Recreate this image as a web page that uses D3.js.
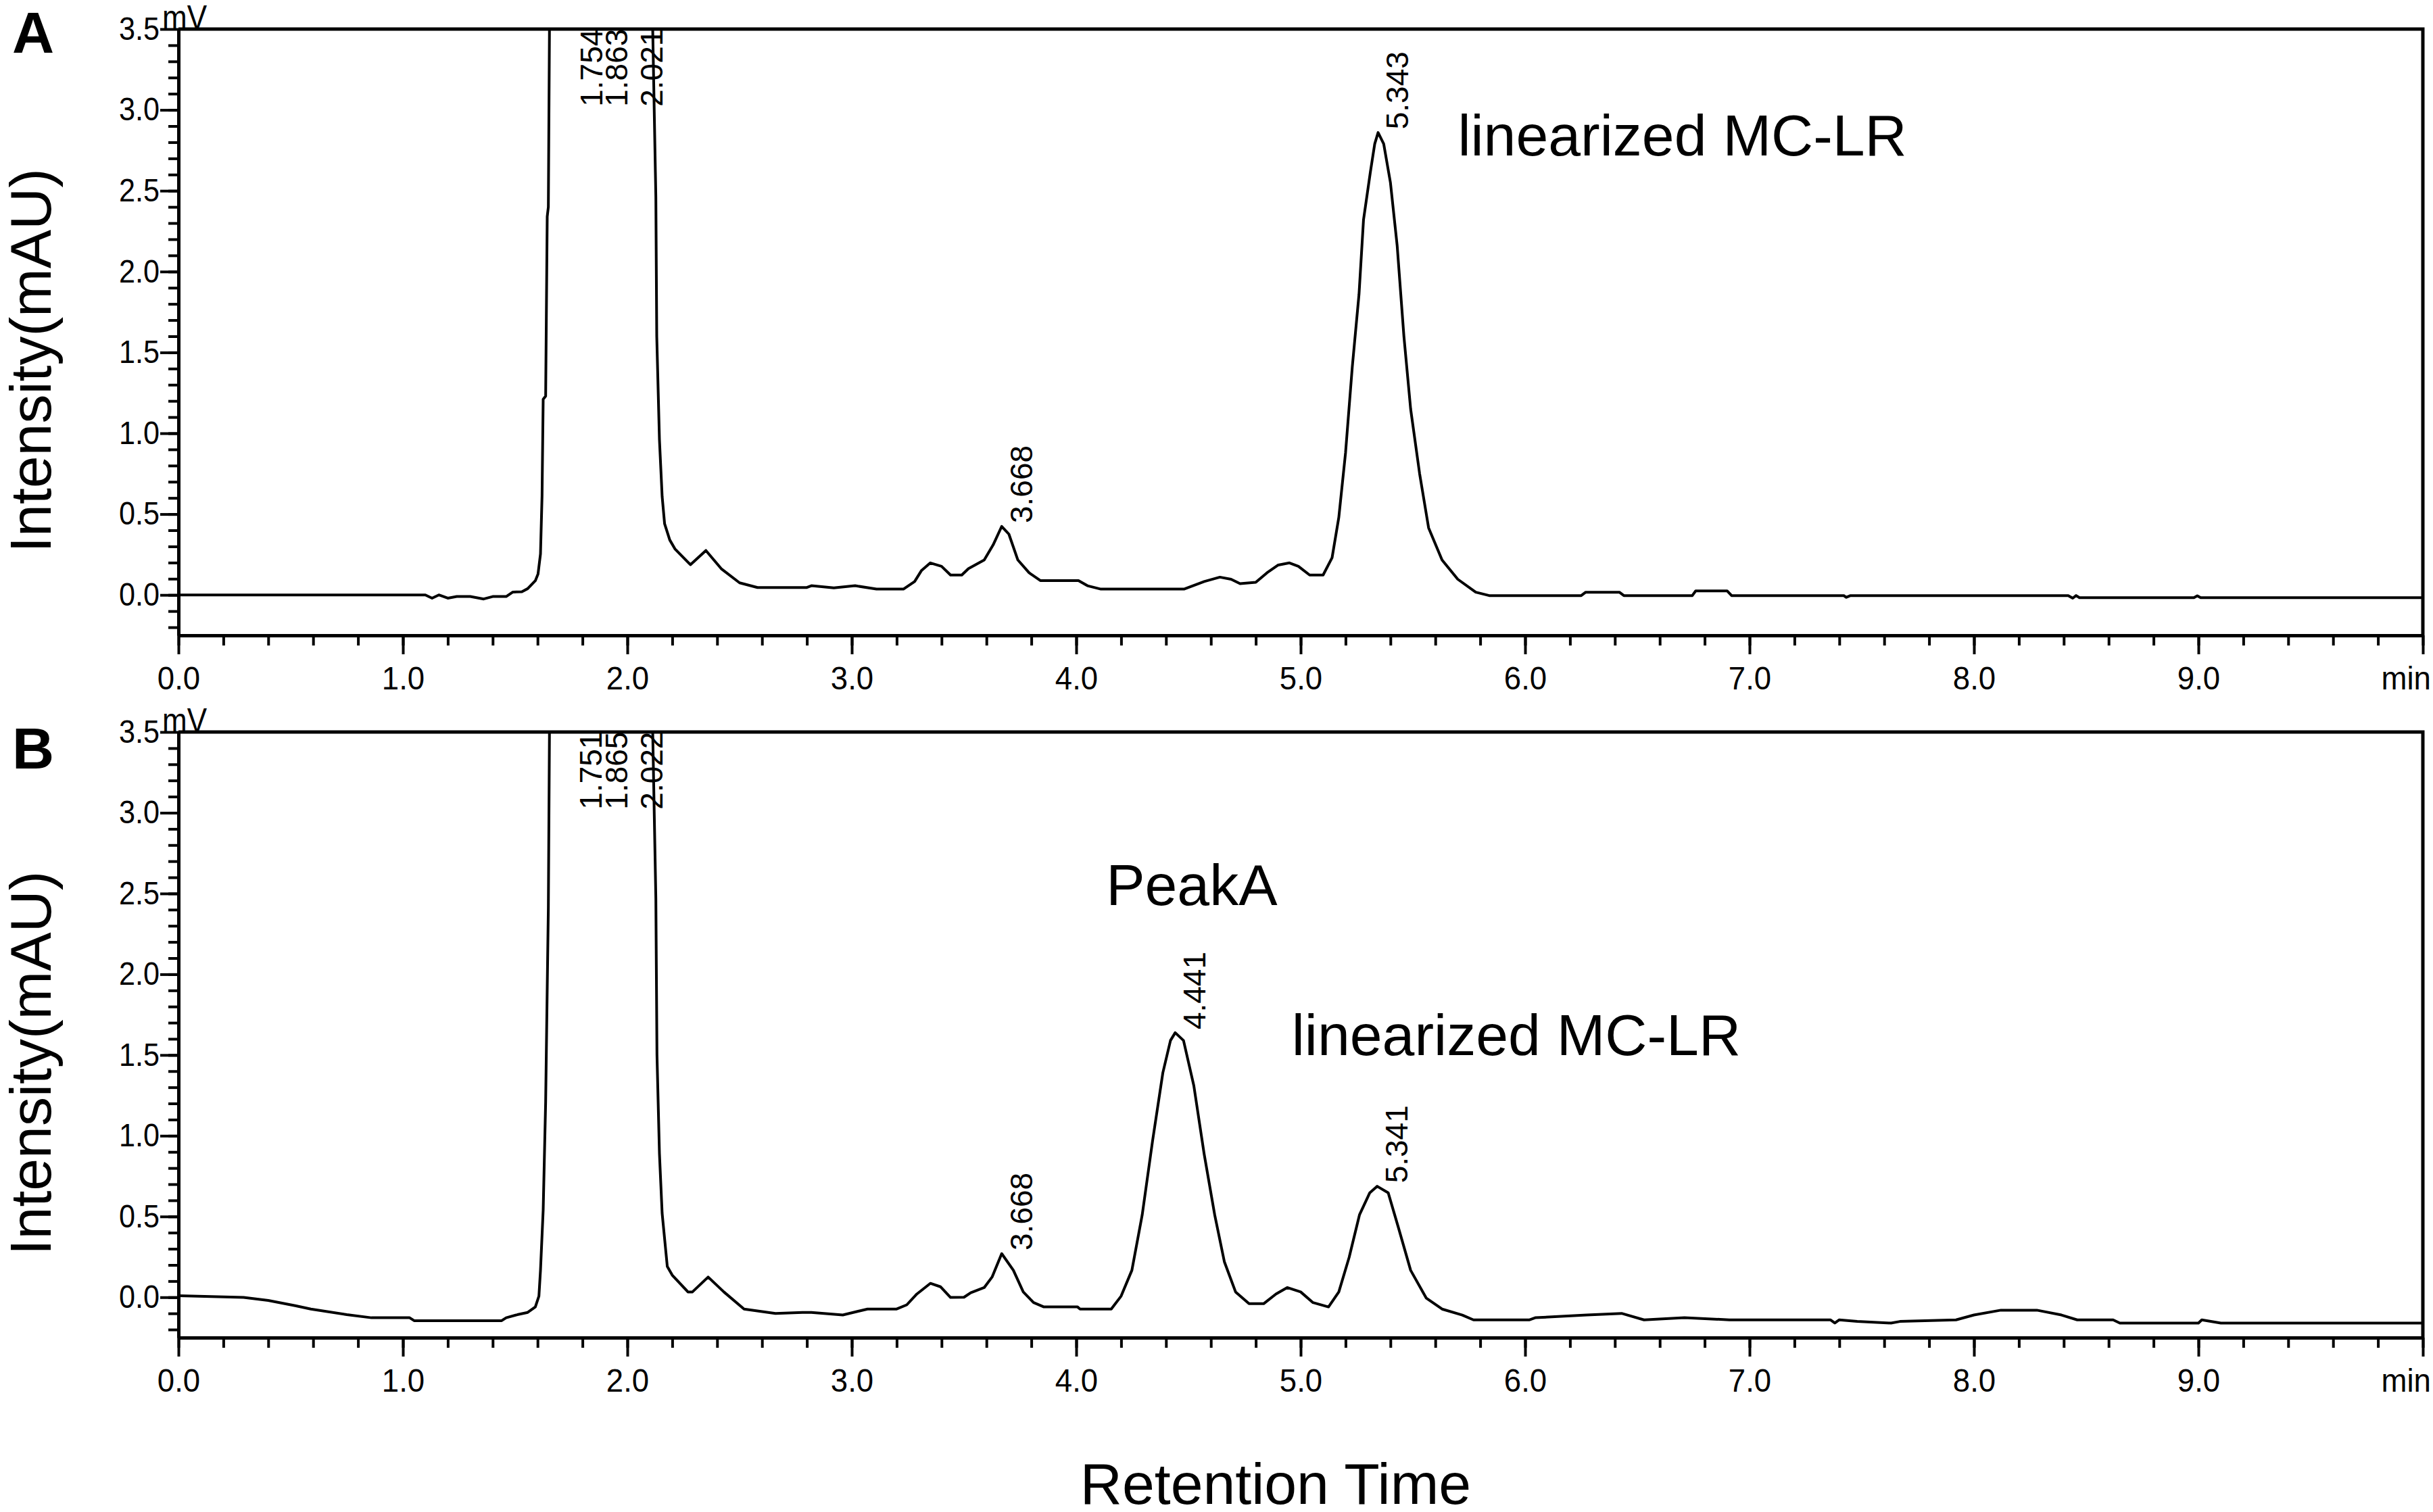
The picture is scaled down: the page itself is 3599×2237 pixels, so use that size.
<!DOCTYPE html>
<html>
<head>
<meta charset="utf-8">
<script src="https://cdn.jsdelivr.net/npm/d3@7/dist/d3.min.js"></script>
<style>
body {margin: 0; background: #fff;}
text {font-family: "Liberation Sans", Arial, sans-serif; fill: #000;}
</style>
</head>
<body>
<div id="chart"></div>
<script>
// chromatogram A: retention time (min) and intensity
let timeA = [0, 1.10, 1.13, 1.16, 1.20, 1.24, 1.30, 1.36, 1.40, 1.46, 1.49, 1.53, 1.556, 1.59, 1.602, 1.613, 1.62, 1.625, 1.636, 1.643, 1.648, 1.653,
    2.113, 2.127, 2.131, 2.143, 2.155, 2.166, 2.189, 2.212, 2.281, 2.35, 2.42, 2.50, 2.58, 2.80, 2.82, 2.92, 3.015, 3.11, 3.23,
    3.28, 3.31, 3.35, 3.40, 3.44, 3.49, 3.52, 3.59, 3.63, 3.668, 3.70, 3.74, 3.79, 3.84, 4.01, 4.05, 4.11, 4.48, 4.57, 4.64, 4.69,
    4.73, 4.80, 4.85, 4.90, 4.95, 4.99, 5.04, 5.10, 5.14, 5.17, 5.20, 5.23, 5.26, 5.28, 5.31, 5.33, 5.345, 5.37, 5.40, 5.43, 5.46,
    5.49, 5.53, 5.57, 5.63, 5.70, 5.78, 5.84, 6.25, 6.27, 6.42, 6.44, 6.745, 6.76, 6.90, 6.92, 7.42, 7.43, 7.45, 8.42, 8.44, 8.455,
    8.47, 8.98, 8.995, 9.01, 10.0]
let valA = [0, 0, -0.02, 0, -0.02, -0.01, -0.01, -0.025, -0.01, -0.01, 0.018, 0.02, 0.039, 0.088, 0.129, 0.254, 0.615, 1.21, 1.23, 2.34, 2.40, 3.5,
    3.5, 2.46, 1.6, 0.96, 0.61, 0.44, 0.34, 0.285, 0.187, 0.275, 0.16, 0.075, 0.046, 0.046, 0.057, 0.044, 0.057, 0.036, 0.036,
    0.083, 0.15, 0.198, 0.177, 0.123, 0.123, 0.163, 0.216, 0.31, 0.424, 0.376, 0.216, 0.137, 0.089, 0.089, 0.057, 0.036, 0.036, 0.083, 0.11, 0.097,
    0.07, 0.078, 0.137, 0.185, 0.198, 0.177, 0.123, 0.123, 0.23, 0.48, 0.88, 1.41, 1.86, 2.32, 2.61, 2.79, 2.86, 2.79, 2.55, 2.16, 1.60,
    1.15, 0.75, 0.415, 0.216, 0.097, 0.017, -0.004, -0.004, 0.017, 0.017, -0.004, -0.004, 0.025, 0.025, -0.004, -0.004, -0.015, -0.004, -0.004, -0.02, -0.004,
    -0.017, -0.017, -0.005, -0.017, -0.017]

// chromatogram B
let timeB = [0, 0.29, 0.40, 0.52, 0.59, 0.75, 0.86, 1.03, 1.05, 1.44, 1.46, 1.51, 1.556, 1.59, 1.606, 1.613, 1.625, 1.636, 1.648, 1.653,
    2.113, 2.127, 2.132, 2.143, 2.155, 2.178, 2.20, 2.27, 2.29, 2.36, 2.43, 2.52, 2.66, 2.78, 2.82, 2.96, 3.07, 3.20, 3.245, 3.29,
    3.35, 3.395, 3.44, 3.50, 3.53, 3.59, 3.625, 3.668, 3.72, 3.764, 3.81, 3.856, 4.006, 4.017, 4.156, 4.20, 4.248, 4.294, 4.34,
    4.386, 4.42, 4.441, 4.478, 4.524, 4.57, 4.617, 4.66, 4.71, 4.77, 4.835, 4.89, 4.94, 5.00, 5.055, 5.124, 5.17, 5.216, 5.262,
    5.308, 5.341, 5.39, 5.435, 5.49, 5.56, 5.63, 5.72, 5.77, 6.02, 6.045, 6.275, 6.43, 6.53, 6.71, 6.91, 7.36, 7.38, 7.40, 7.48,
    7.63, 7.67, 7.92, 8.00, 8.12, 8.28, 8.39, 8.46, 8.62, 8.65, 9.00, 9.015, 9.10, 10.0]
let valB = [0.01, -0.001, -0.02, -0.052, -0.073, -0.108, -0.127, -0.127, -0.145, -0.145, -0.127, -0.108, -0.094, -0.06, 0.007, 0.167, 0.54, 1.21, 2.41, 3.5,
    3.5, 2.47, 1.50, 0.89, 0.52, 0.19, 0.137, 0.033, 0.033, 0.125, 0.033, -0.073, -0.10, -0.094, -0.094, -0.11, -0.073, -0.073, -0.047, 0.02,
    0.086, 0.065, -0.001, 0, 0.028, 0.06, 0.125, 0.27, 0.167, 0.033, -0.033, -0.06, -0.06, -0.073, -0.073, 0.007, 0.167, 0.51, 0.967,
    1.39, 1.59, 1.638, 1.59, 1.31, 0.887, 0.51, 0.22, 0.033, -0.04, -0.04, 0.02, 0.06, 0.033, -0.033, -0.06, 0.033, 0.247, 0.51,
    0.647, 0.687, 0.647, 0.434, 0.167, -0.006, -0.073, -0.11, -0.14, -0.14, -0.127, -0.11, -0.10, -0.14, -0.127, -0.14, -0.14, -0.16, -0.14, -0.15,
    -0.16, -0.15, -0.14, -0.11, -0.08, -0.08, -0.11, -0.14, -0.14, -0.16, -0.16, -0.14, -0.16, -0.16]

// peak labels
let peaksA = [1.754, 1.863, 2.021, 3.668, 5.343]
let peakTextA = ["1.754", "1.863", "2.021", "3.668", "5.343"]
let peaksB = [1.751, 1.865, 2.022, 3.668, 4.441, 5.341]
let peakTextB = ["1.751", "1.865", "2.022", "3.668", "4.441", "5.341"]

// axis ticks
let yMajor = [0, 0.5, 1.0, 1.5, 2.0, 2.5, 3.0, 3.5]
let yTickLabels = ["0.0", "0.5", "1.0", "1.5", "2.0", "2.5", "3.0", "3.5"]
let xMajor = [0, 1, 2, 3, 4, 5, 6, 7, 8, 9, 10]
let xTickLabels = ["0.0", "1.0", "2.0", "3.0", "4.0", "5.0", "6.0", "7.0", "8.0", "9.0", "min"]

let W = 3599, H = 2237
let svg = d3.select("#chart").append("svg")
    .attr("width", W).attr("height", H)
    .style("background", "#fff")

let scX = d3.scaleLinear().domain([0, 10]).range([264, 3584])

let panels = [
    {name: "A", top: 43, bottom: 940, t: timeA, v: valA, peaks: peaksA, labels: peakTextA, nameY: 78,
        notes: [{text: "linearized MC-LR", t: 5.70, y: 2.72}]},
    {name: "B", top: 1083, bottom: 1979, t: timeB, v: valB, peaks: peaksB, labels: peakTextB, nameY: 1137,
        notes: [{text: "PeakA", t: 4.133, y: 2.43}, {text: "linearized MC-LR", t: 4.96, y: 1.50}]}
]

panels.forEach((p, idx) => {
    let scY = d3.scaleLinear().domain([-0.25, 3.5]).range([p.bottom, p.top])
    let g = svg.append("g")

    g.append("clipPath").attr("id", "clip" + idx)
        .append("rect")
        .attr("x", scX(0)).attr("y", p.top)
        .attr("width", scX(10) - scX(0)).attr("height", p.bottom - p.top)

    // minor ticks
    let yMinor = d3.range(-2, 35).map(i => i / 10)
    g.append("g")
        .attr("transform", `translate(${scX(0)},0)`)
        .call(d3.axisLeft(scY).tickValues(yMinor).tickSize(15).tickSizeOuter(0).tickFormat(""))
        .call(a => a.select(".domain").remove())
        .selectAll("line").attr("stroke-width", 4)
    let xMinor = d3.range(0, 51).map(i => i / 5)
    g.append("g")
        .attr("transform", `translate(0,${p.bottom})`)
        .call(d3.axisBottom(scX).tickValues(xMinor).tickSize(15).tickSizeOuter(0).tickFormat(""))
        .call(a => a.select(".domain").remove())
        .selectAll("line").attr("stroke-width", 4)

    // major ticks and labels
    let yAxis = g.append("g")
        .attr("transform", `translate(${scX(0)},0)`)
        .call(d3.axisLeft(scY).tickValues(yMajor).tickSize(27).tickSizeOuter(0).tickPadding(4)
            .tickFormat((d, i) => yTickLabels[i]))
    yAxis.selectAll("line").attr("stroke-width", 4)
    yAxis.select(".domain").attr("stroke-width", 5)
    yAxis.selectAll("text").attr("font-size", 48).attr("transform", "scale(0.9,1)")
        .style("font-family", '"Liberation Sans", Arial, sans-serif')

    let xAxis = g.append("g")
        .attr("transform", `translate(0,${p.bottom})`)
        .call(d3.axisBottom(scX).tickValues(xMajor).tickSize(28).tickSizeOuter(0).tickPadding(18)
            .tickFormat((d, i) => xTickLabels[i]))
    xAxis.selectAll("line").attr("stroke-width", 4)
    xAxis.select(".domain").attr("stroke-width", 5)
    xAxis.selectAll("text").attr("font-size", 48).attr("transform", "scale(0.95,1)")
        .style("font-family", '"Liberation Sans", Arial, sans-serif')
    xAxis.selectAll("text").filter((d, i) => i === xMajor.length - 1)
        .attr("text-anchor", "end").attr("dx", 12)

    // frame top and right
    g.append("path")
        .attr("d", `M${scX(0)},${p.top}H${scX(10)}V${p.bottom}`)
        .attr("fill", "none").attr("stroke", "#000").attr("stroke-width", 5)

    // signal
    let makeLine = d3.line()
        .x((d, i) => scX(p.t[i]))
        .y(d => scY(d))
    g.append("path")
        .attr("d", makeLine(p.v))
        .attr("clip-path", `url(#clip${idx})`)
        .attr("fill", "none")
        .attr("stroke", "#000")
        .attr("stroke-width", 4)
        .attr("stroke-linejoin", "round")

    // retention time labels above each peak
    p.peaks.forEach((pk, i) => {
        let j = d3.bisectLeft(p.t, pk)
        let f = (pk - p.t[j - 1]) / (p.t[j] - p.t[j - 1])
        let here = p.v[j - 1] + f * (p.v[j] - p.v[j - 1])
        let near = p.v.filter((d, k) => Math.abs(p.t[k] - pk) < 0.03)
        let top = Math.min(3.0, d3.max(near.concat([here]))) + 0.02
        g.append("text")
            .attr("transform", `translate(${scX(pk) + 45},${scY(top)}) rotate(-90)`)
            .attr("font-size", 46)
            .text(p.labels[i])
    })

    p.notes.forEach(n => {
        g.append("text")
            .attr("x", scX(n.t)).attr("y", scY(n.y))
            .attr("font-size", 86)
            .text(n.text)
    })

    g.append("text")
        .attr("transform", `translate(240,${p.top}) scale(0.88,1)`)
        .attr("font-size", 50)
        .text("mV")

    g.append("text")
        .attr("x", 18).attr("y", p.nameY)
        .attr("font-size", 86).attr("font-weight", "bold")
        .text(p.name)

    g.append("text")
        .attr("transform", `translate(75,${(p.top + p.bottom) / 2 + 42}) rotate(-90)`)
        .attr("text-anchor", "middle")
        .attr("font-size", 86)
        .text("Intensity(mAU)")
})

svg.append("text")
    .attr("x", 1887).attr("y", 2225)
    .attr("text-anchor", "middle")
    .attr("font-size", 86)
    .text("Retention Time")
</script>
</body>
</html>
